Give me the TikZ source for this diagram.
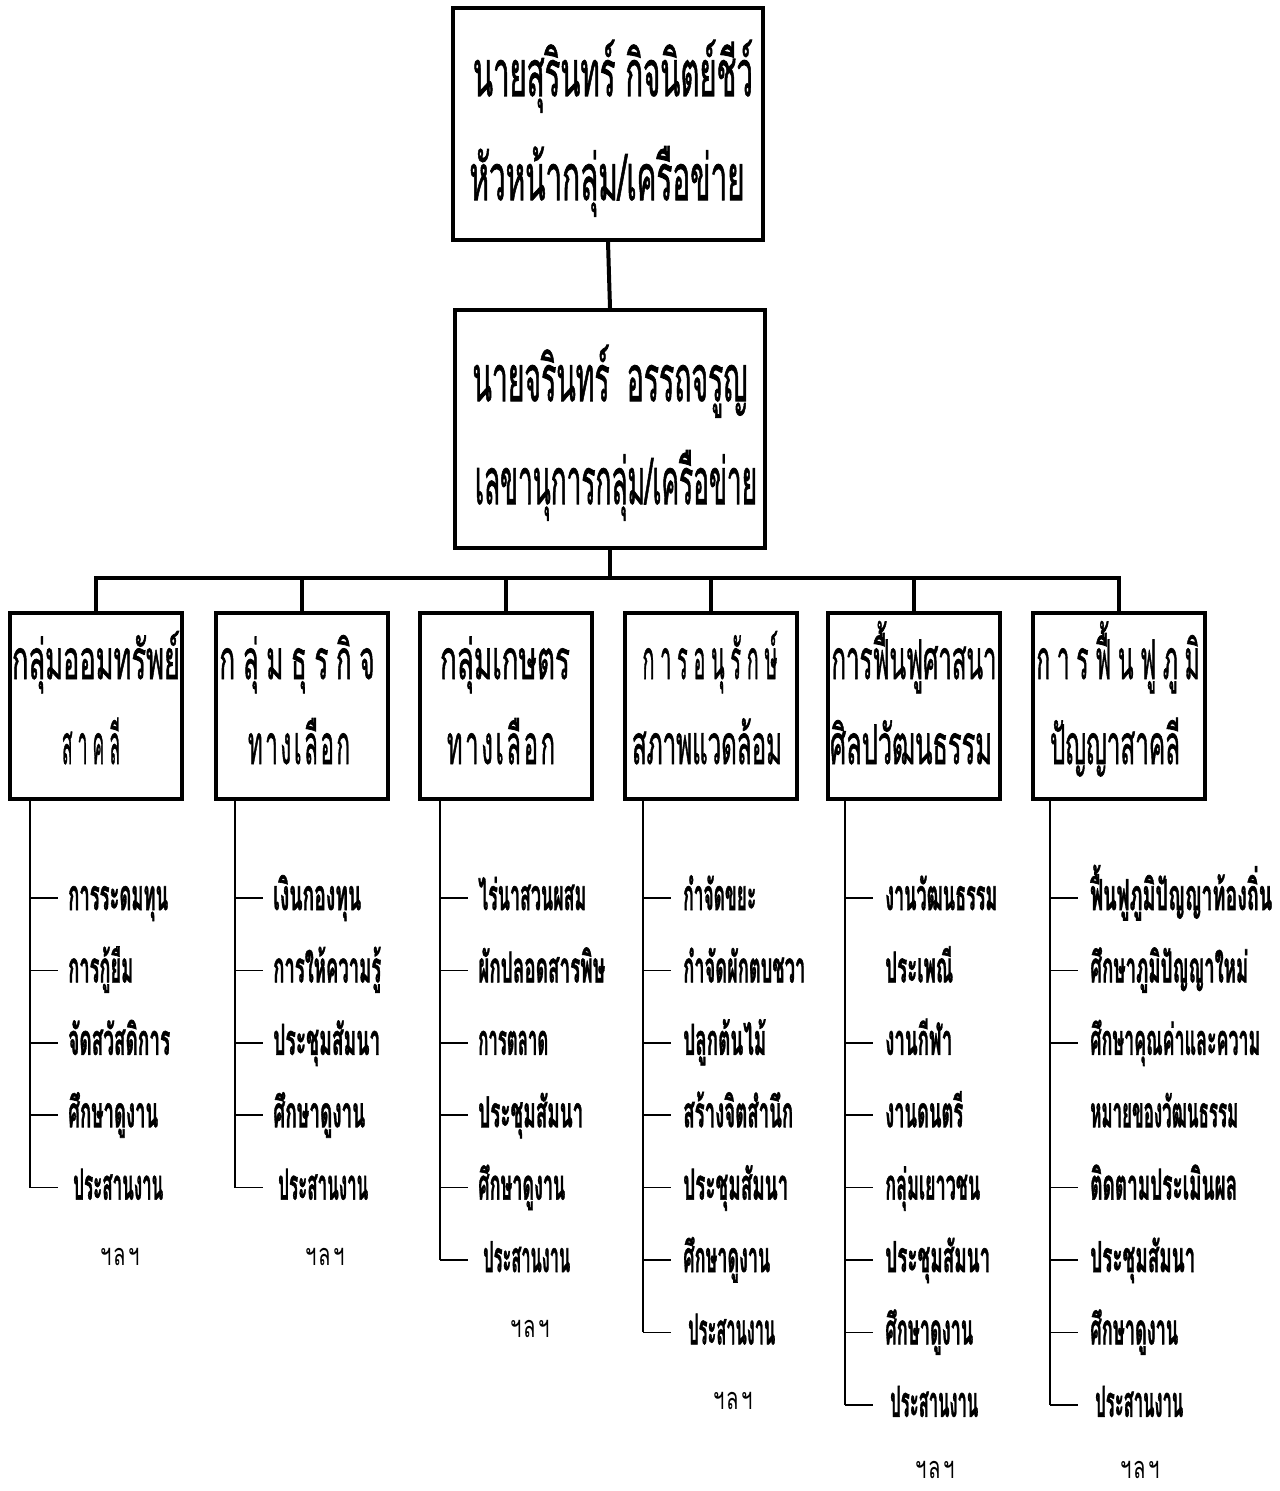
\documentclass[tikz,border=0pt]{standalone}
\usepackage{fontspec}
\usepackage{graphicx}
\newfontfamily\thai[Script=Thai, FakeBold=1.6]{Loma}
\newfontfamily\thaietc[Script=Thai]{Loma}
\newfontfamily\thaiheavy[Script=Thai, BoldFeatures={FakeBold=1.5}]{Loma}
\newdimen\pxu \pxu=0.75pt
\newcommand\fw[2]{\resizebox{#1\pxu}{\height}{#2}}
\newcommand\ls{\kern0.3em}
\newcommand\lt{\kern0.12em}
\tikzset{
 box/.style={draw, line width=3pt, inner sep=0pt},
 conn/.style={line width=3pt},
 vln/.style={line width=1.6pt},
 tck/.style={line width=1.3pt},
 ttop/.style={font=\thai\fontsize{48}{56}\selectfont, inner sep=0pt, anchor=base},
 tgrp/.style={font=\thai\fontsize{41}{48}\selectfont, inner sep=0pt, anchor=base},
 titem/.style={font=\thaiheavy\bfseries\fontsize{32}{38}\selectfont, inner sep=0pt, anchor=base west},
 tetc/.style={font=\thaietc\fontsize{23}{28}\selectfont, inner sep=0pt, anchor=base},
}
\newcommand\listcol[6]{%
  \draw[vln] (#2,799) -- (#2,{898+72.4*#4});
  \foreach \t/\w/\k/\o [count=\i from 0] in {#5}{
    \pgfmathsetmacro\yy{898+72.4*\i}
    \coordinate (#1t\i) at (#2,\yy);
    \ifnum\k=1 \draw[tck] (#1t\i) -- ++(28,0);\fi
    \node[titem] (#1i\i) at (#3+\o,\yy+12) {\fw{\w}{\t}};
  }
  \pgfmathsetmacro\ye{898+72.4*(#4+1)+#6}
  \node[tetc] (#1etc) at (#2+90,\ye) {\fw{40}{ฯ\lt ล\lt ฯ}};
}
\begin{document}
\begin{tikzpicture}[x=0.75pt, y=-0.75pt]
\useasboundingbox (0,0) rectangle (1280,1491);
\fill[white] (0,0) rectangle (1280,1491);

% top boxes
\node[box, minimum width=232.5pt, minimum height=174pt] (top) at (608,124) {};
\node[box, minimum width=232.5pt, minimum height=178.5pt] (sec) at (610,429) {};
\node[ttop] (top1) at (613,96) {\fw{280}{นายสุรินทร์ กิจนิตย์ชีว์}};
\node[ttop] (top2) at (607,200) {\fw{275}{หัวหน้ากลุ่ม/เครือข่าย}};
\node[ttop] (sec1) at (610,401) {\fw{275}{นายจรินทร์\kern0.6em อรรถจรูญ}};
\node[ttop] (sec2) at (616,504) {\fw{282}{เลขานุการกลุ่ม/เครือข่าย}};

% group boxes
\foreach \n/\x in {g1/96, g2/301.5, g3/505.5, g4/711, g5/914, g6/1118.5}
  \node[box, minimum width=129pt, minimum height=139.5pt] (\n) at (\x,706) {};

\coordinate (busy) at (0,578);
\draw[conn] (top.south) -- (sec.north);
\draw[conn] (sec.south) -- (sec.south |- busy);
\draw[conn] (g1.north) -- (g1.north |- busy) -- (g6.north |- busy) -- (g6.north);
\foreach \n in {g2,g3,g4,g5} \draw[conn] (\n.north) -- (\n.north |- busy);

\node[tgrp] (g1a) at (96,679) {\fw{168}{กลุ่มออมทรัพย์}};
\node[tgrp] (g1b) at (91,764) {\fw{58}{ส\ls า\ls ค\ls ลี}};
\node[tgrp] (g2a) at (297,679) {\fw{155}{ก\ls ลุ่\ls ม\ls ธุ\ls ร\ls กิ\ls จ}};
\node[tgrp] (g2b) at (299,764) {\fw{102}{ท\lt า\lt ง\lt เ\lt ลื\lt อ\lt ก}};
\node[tgrp] (g3a) at (505,679) {\fw{130}{กลุ่มเกษตร}};
\node[tgrp] (g3b) at (501,764) {\fw{108}{ท\lt า\lt ง\lt เ\lt ลื\lt อ\lt ก}};
\node[tgrp] (g4a) at (710,679) {\fw{135}{ก\ls า\ls ร\ls อ\ls นุ\ls รั\ls ก\ls ษ์}};
\node[tgrp] (g4b) at (707,764) {\fw{150}{สภาพแวดล้อม}};
\node[tgrp] (g5a) at (914,679) {\fw{165}{การฟื้นฟูศาสนา}};
\node[tgrp] (g5b) at (911,764) {\fw{162}{ศิลปวัฒนธรรม}};
\node[tgrp] (g6a) at (1118,679) {\fw{163}{ก\ls า\ls ร\ls ฟื้\ls น\ls ฟู\ls ภู\ls มิ}};
\node[tgrp] (g6b) at (1115,764) {\fw{130}{ปัญญาสาคลี}};

% lists
\listcol{c1}{30}{68}{4}{การระดมทุน/100/1/0, การกู้ยืม/65/1/0, จัดสวัสดิการ/102/1/0, ศึกษาดูงาน/90/1/0, ประสานงาน/90/1/5}{5}
\listcol{c2}{235}{273}{4}{เงินกองทุน/88/1/0, การให้ความรู้/108/1/0, ประชุมสัมนา/107/1/0, ศึกษาดูงาน/92/1/0, ประสานงาน/90/1/5}{5}
\listcol{c3}{440}{478}{5}{ไร่นาสวนผสม/108/1/0, ผักปลอดสารพิษ/127/1/0, การตลาด/70/1/0, ประชุมสัมนา/105/1/0, ศึกษาดูงาน/87/1/0, ประสานงาน/87/1/5}{5}
\listcol{c4}{643}{683}{6}{กำจัดขยะ/73/1/0, กำจัดผักตบชวา/122/1/0, ปลูกต้นไม้/83/1/0, สร้างจิตสำนึก/110/1/0, ประชุมสัมนา/105/1/0, ศึกษาดูงาน/87/1/0, ประสานงาน/87/1/5}{5}
\listcol{c5}{845}{885}{7}{งานวัฒนธรรม/112/1/0, ประเพณี/68/0/0, งานกีฬา/67/1/0, งานดนตรี/78/1/0, กลุ่มเยาวชน/95/1/0, ประชุมสัมนา/105/1/0, ศึกษาดูงาน/88/1/0, ประสานงาน/88/1/5}{1}
\listcol{c6}{1050}{1090}{7}{ฟื้นฟูภูมิปัญญาท้องถิ่น/182/1/0, ศึกษาภูมิปัญญาใหม่/158/1/0, ศึกษาคุณค่าและความ/170/1/0, หมายของวัฒนธรรม/148/0/0, ติดตามประเมินผล/147/1/0, ประชุมสัมนา/105/1/0, ศึกษาดูงาน/88/1/0, ประสานงาน/88/1/5}{1}
\end{tikzpicture}
\end{document}
